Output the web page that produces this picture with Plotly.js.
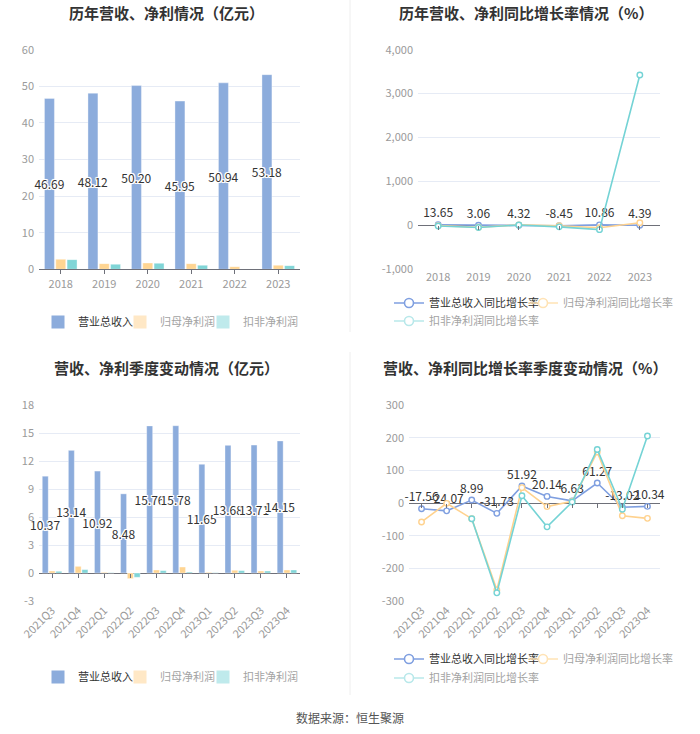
<!DOCTYPE html>
<html>
<head>
<meta charset="utf-8">
<script src="https://cdn.plot.ly/plotly-3.0.1.min.js"></script>
<style>html,body{margin:0;padding:0;background:#fff;overflow:hidden}#chart{width:700px;height:734px}</style>
</head>
<body>
<div id="chart"></div>
<script>
// ---------- data ----------
const years = ['2018','2019','2020','2021','2022','2023'];
const revY = [46.69, 48.12, 50.20, 45.95, 50.94, 53.18];
const npY  = [2.73, 1.55, 1.73, 1.55, 0.73, 1.09];
const kfY  = [2.64, 1.37, 1.64, 1.09, 0.03, 1.00];
const revGrowthY = [13.65, 3.06, 4.32, -8.45, 10.86, 4.39];
const npGrowthY  = [-5, -43, 12, -10, -55, 60];
const kfGrowthY  = [-15, -48, 10, -33, -97, 3424];

const quarters = ['2021Q3','2021Q4','2022Q1','2022Q2','2022Q3','2022Q4','2023Q1','2023Q2','2023Q3','2023Q4'];
const revQ = [10.37, 13.14, 10.92, 8.48, 15.76, 15.78, 11.65, 13.68, 13.71, 14.15];
const npQ  = [0.21, 0.71, 0.07, -0.60, 0.32, 0.64, 0.07, 0.29, 0.21, 0.32];
const kfQ  = [0.18, 0.36, 0.03, -0.46, 0.25, 0.10, 0.03, 0.25, 0.21, 0.32];
const revGrowthQ = [-17.56, -24.07, 8.99, -31.73, 51.92, 20.14, 6.63, 61.27, -13.02, -10.34];
const npGrowthQ  = [-58, -1, -48, -266, 47, -11, 5, 156, -39, -47];
const kfGrowthQ  = [null, null, -48, -275, 22, -73, 3, 164, -19, 205];

const barNames = ['营业总收入', '归母净利润', '扣非净利润'];
const lineNames = ['营业总收入同比增长率', '归母净利润同比增长率', '扣非净利润同比增长率'];

const yTicksTL = [0, 10, 20, 30, 40, 50, 60];
const yTicksTR = [-1000, 0, 1000, 2000, 3000, 4000];
const yTicksTRText = ['-1,000', '0', '1,000', '2,000', '3,000', '4,000'];
const yTicksBL = [-3, 0, 3, 6, 9, 12, 15, 18];
const yTicksBR = [-300, -200, -100, 0, 100, 200, 300];

// ---------- styles ----------
const FONT = 'Noto Sans CJK SC, Noto Sans, sans-serif';
const C_BLUE = '#8CACDC', C_ORANGE = '#FFD592', C_TEAL = '#80D5D7';
const L_BLUE = '#7F9FE0', L_ORANGE = '#FFD28E', L_TEAL = '#74D3D5';
const P_ORANGE = '#FFE8C6', P_TEAL = '#BFEAEC', PL_ORANGE = '#FFE3B5', PL_TEAL = '#B8E8EA';
const GRID = '#E6EBF5', AXIS = '#6E7079', TICKF = {family: FONT, size: 11, color: '#9A9A9A'};
const OUTLINE = '1px 1px 0 #fff, -1px -1px 0 #fff, 1px -1px 0 #fff, -1px 1px 0 #fff, 0 1px 0 #fff, 0 -1px 0 #fff, 1px 0 0 #fff, -1px 0 0 #fff, 0 0 2px #fff, 0 0 2px #fff';
const fmt = v => v.toFixed(2);
const greyName = n => '<span style="color:#A3A3A3">' + n + '</span>';

function barTrace(x, y, color, xa, ya, withText) {
  const t = {type: 'bar', x: x, y: y, xaxis: xa, yaxis: ya, showlegend: false, cliponaxis: false,
    marker: {color: color, line: {color: 'rgba(255,255,255,0.6)', width: 0.6}}, hoverinfo: 'skip'};
  if (withText) {
    t.text = y.map(fmt);
    t.textposition = 'inside';
    t.insidetextanchor = 'middle';
    t.textangle = 0;
    t.constraintext = 'none';
    t.insidetextfont = {family: FONT, size: 12, color: '#333', shadow: OUTLINE};
  }
  return t;
}
function lineTrace(x, y, color, xa, ya, withText) {
  const t = {type: 'scatter', mode: withText ? 'lines+markers+text' : 'lines+markers',
    x: x, y: y, xaxis: xa, yaxis: ya, showlegend: false, hoverinfo: 'skip', cliponaxis: false,
    line: {color: color, width: 1.6},
    marker: {symbol: 'circle', size: 5.5, color: '#fff', line: {color: color, width: 1.4}}};
  if (withText) {
    t.text = y.map(fmt);
    t.textposition = 'top center';
    t.textfont = {family: FONT, size: 12, color: '#333'};
  }
  return t;
}
function legendSwatch(name, color, leg, xa, ya) {
  return {type: 'scatter', mode: 'markers', x: [null], y: [null], xaxis: xa, yaxis: ya,
    name: name, legend: leg, showlegend: true, hoverinfo: 'skip',
    marker: {symbol: 'square', size: 13, color: color}};
}
function legendLine(name, color, leg, xa, ya) {
  return {type: 'scatter', mode: 'lines+markers', x: [null], y: [null], xaxis: xa, yaxis: ya,
    name: name, legend: leg, showlegend: true, hoverinfo: 'skip',
    line: {color: color, width: 1.6},
    marker: {symbol: 'circle', size: 9, color: '#fff', line: {color: color, width: 1.6}}};
}
// carrier for the zero-line tick axes (no marks)
function tickCarrier(xa, ya) {
  return {type: 'scatter', mode: 'markers', x: [null], y: [null], xaxis: xa, yaxis: ya,
    showlegend: false, hoverinfo: 'skip'};
}

const data = [
  // top-left
  barTrace(years, revY, C_BLUE, 'x', 'y', true),
  barTrace(years, npY, C_ORANGE, 'x', 'y', false),
  barTrace(years, kfY, C_TEAL, 'x', 'y', false),
  legendSwatch(barNames[0], C_BLUE, 'legend', 'x', 'y'),
  legendSwatch(greyName(barNames[1]), P_ORANGE, 'legend2', 'x', 'y'),
  legendSwatch(greyName(barNames[2]), P_TEAL, 'legend3', 'x', 'y'),
  // top-right
  lineTrace(years, revGrowthY, L_BLUE, 'x2', 'y2', true),
  lineTrace(years, npGrowthY, L_ORANGE, 'x2', 'y2', false),
  lineTrace(years, kfGrowthY, L_TEAL, 'x2', 'y2', false),
  legendLine(lineNames[0], L_BLUE, 'legend4', 'x2', 'y2'),
  legendLine(greyName(lineNames[1]), PL_ORANGE, 'legend5', 'x2', 'y2'),
  legendLine(greyName(lineNames[2]), PL_TEAL, 'legend6', 'x2', 'y2'),
  // bottom-left
  barTrace(quarters, revQ, C_BLUE, 'x3', 'y3', true),
  barTrace(quarters, npQ, C_ORANGE, 'x3', 'y3', false),
  barTrace(quarters, kfQ, C_TEAL, 'x3', 'y3', false),
  legendSwatch(barNames[0], C_BLUE, 'legend7', 'x3', 'y3'),
  legendSwatch(greyName(barNames[1]), P_ORANGE, 'legend8', 'x3', 'y3'),
  legendSwatch(greyName(barNames[2]), P_TEAL, 'legend9', 'x3', 'y3'),
  // bottom-right
  lineTrace(quarters, revGrowthQ, L_BLUE, 'x4', 'y4', true),
  lineTrace(quarters, npGrowthQ, L_ORANGE, 'x4', 'y4', false),
  lineTrace(quarters, kfGrowthQ, L_TEAL, 'x4', 'y4', false),
  legendLine(lineNames[0], L_BLUE, 'legend10', 'x4', 'y4'),
  legendLine(greyName(lineNames[1]), PL_ORANGE, 'legend11', 'x4', 'y4'),
  legendLine(greyName(lineNames[2]), PL_TEAL, 'legend12', 'x4', 'y4'),
  tickCarrier('x5', 'y2'), tickCarrier('x6', 'y3'), tickCarrier('x7', 'y4')
];

const H = 734, W = 700;
const py = v => 1 - v / H, px = v => v / W;

function xAx(domain, anchor, n, opts) {
  return Object.assign({domain: domain, anchor: anchor, type: 'category', range: [-0.5, n - 0.5],
    showgrid: false, zeroline: false, showline: false, ticks: '', tickfont: TICKF, fixedrange: true}, opts || {});
}
function yAx(domain, anchor, range, tv, tt) {
  return {domain: domain, anchor: anchor, range: range, tickvals: tv, ticktext: tt || tv.map(String),
    showgrid: true, gridcolor: GRID, gridwidth: 1, zeroline: true, zerolinecolor: AXIS, zerolinewidth: 1,
    showline: false, ticks: '', tickfont: TICKF, ticklabelstandoff: 4, fixedrange: true};
}
// axis carrying only the small tick marks on the zero line
function zeroTickAx(over, n, yDomain, yRange) {
  const pos = yDomain[0] + (0 - yRange[0]) / (yRange[1] - yRange[0]) * (yDomain[1] - yDomain[0]);
  return {overlaying: over, anchor: 'free', position: pos, type: 'linear', range: [-0.5, n - 0.5],
    tick0: 0, dtick: 1, ticks: 'outside', ticklen: 4, tickcolor: AXIS, tickwidth: 1,
    showticklabels: false, showgrid: false, zeroline: false, showline: false, fixedrange: true};
}
function legendCfg(x, y) {
  return {orientation: 'h', x: x, y: y, xanchor: 'left', yanchor: 'middle', bgcolor: 'rgba(0,0,0,0)',
    font: {family: FONT, size: 11, color: '#333'}, itemclick: false, itemdoubleclick: false,
    tracegroupgap: 0, itemwidth: 30};
}

const rTR = [-1000, 4000], rBL = [-3, 18], rBR = [-300, 300];
const yTop = [py(269.3), py(49.7)], yBot = [py(601), py(405)];

const layout = {
  width: W, height: H, margin: {l: 0, r: 0, t: 0, b: 0, autoexpand: false},
  paper_bgcolor: '#fff', plot_bgcolor: '#fff', font: {family: FONT},
  barmode: 'group', bargap: 0.22, bargroupgap: 0.12,
  xaxis: xAx([px(39), px(300)], 'y', years.length, {showline: true, linecolor: AXIS, ticks: 'outside', ticklen: 4, tickcolor: AXIS}),
  yaxis: yAx(yTop, 'x', [0, 60], yTicksTL),
  xaxis2: xAx([px(418), px(660)], 'y2', years.length),
  yaxis2: yAx(yTop, 'x2', rTR, yTicksTR, yTicksTRText),
  xaxis3: xAx([px(39), px(300)], 'y3', quarters.length, {tickangle: -45}),
  yaxis3: yAx(yBot, 'x3', rBL, yTicksBL),
  xaxis4: xAx([px(409), px(660)], 'y4', quarters.length, {tickangle: -45}),
  yaxis4: yAx(yBot, 'x4', rBR, yTicksBR),
  xaxis5: zeroTickAx('x2', years.length, yTop, rTR),
  xaxis6: zeroTickAx('x3', quarters.length, yBot, rBL),
  xaxis7: zeroTickAx('x4', quarters.length, yBot, rBR),
  legend:   legendCfg(px(38),  py(322)),
  legend2:  legendCfg(px(120), py(322)),
  legend3:  legendCfg(px(203), py(322)),
  legend4:  legendCfg(px(389), py(303)),
  legend5:  legendCfg(px(523), py(303)),
  legend6:  legendCfg(px(389), py(321)),
  legend7:  legendCfg(px(38),  py(677)),
  legend8:  legendCfg(px(120), py(677)),
  legend9:  legendCfg(px(203), py(677)),
  legend10: legendCfg(px(389), py(659)),
  legend11: legendCfg(px(523), py(659)),
  legend12: legendCfg(px(389), py(678)),
  annotations: [
    {text: '历年营收、净利情况（亿元）', x: px(166), y: py(12), xref: 'paper', yref: 'paper', showarrow: false,
     xanchor: 'center', yanchor: 'middle', font: {family: FONT, size: 15, color: '#333', weight: 'bold'}},
    {text: '历年营收、净利同比增长率情况（%）', x: px(526), y: py(12), xref: 'paper', yref: 'paper', showarrow: false,
     xanchor: 'center', yanchor: 'middle', font: {family: FONT, size: 15, color: '#333', weight: 'bold'}},
    {text: '营收、净利季度变动情况（亿元）', x: px(166), y: py(367), xref: 'paper', yref: 'paper', showarrow: false,
     xanchor: 'center', yanchor: 'middle', font: {family: FONT, size: 15, color: '#333', weight: 'bold'}},
    {text: '营收、净利同比增长率季度变动情况（%）', x: px(525), y: py(367), xref: 'paper', yref: 'paper', showarrow: false,
     xanchor: 'center', yanchor: 'middle', font: {family: FONT, size: 15, color: '#333', weight: 'bold'}},
    {text: '数据来源：恒生聚源', x: 0.5, y: py(717), xref: 'paper', yref: 'paper', showarrow: false,
     xanchor: 'center', yanchor: 'middle', font: {family: FONT, size: 12, color: '#555'}}
  ],
  shapes: [
    {type: 'line', xref: 'paper', yref: 'paper', x0: 0.5, x1: 0.5, y0: py(332), y1: py(0), line: {color: '#EEEEEE', width: 1}},
    {type: 'line', xref: 'paper', yref: 'paper', x0: 0.5, x1: 0.5, y0: py(695), y1: py(352), line: {color: '#EEEEEE', width: 1}}
  ]
};

Plotly.newPlot('chart', data, layout, {displayModeBar: false, staticPlot: true});
</script>
</body>
</html>
